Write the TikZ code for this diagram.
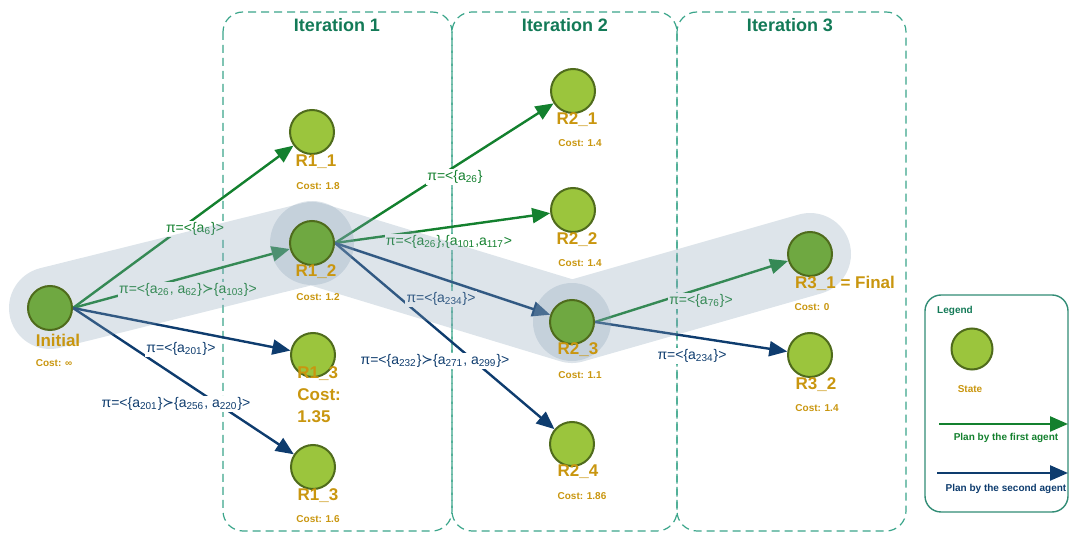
\documentclass[tikz,border=0pt]{standalone}
\usepackage{fontspec}
\setmainfont{Liberation Sans}
\newfontfamily\symbfont{DejaVu Sans}
\usetikzlibrary{arrows.meta}

\definecolor{stategreen}{HTML}{9BC53D}
\definecolor{pathgreen}{HTML}{6FA841}
\definecolor{stateborder}{HTML}{4F6B1C}
\definecolor{costgold}{HTML}{C9960F}
\definecolor{firstgreen}{HTML}{13802E}
\definecolor{secondblue}{HTML}{0E3C6E}
\definecolor{itergreen}{HTML}{137A57}
\definecolor{iterdash}{HTML}{3AA58A}
\definecolor{bandblue}{RGB}{138,162,183}

\pgfdeclarelayer{boxes}
\pgfdeclarelayer{plans}
\pgfdeclarelayer{chosen}
\pgfsetlayers{boxes,plans,chosen,main}

\newcommand{\asub}[1]{a\textsubscript{#1}}
\newcommand{\succsym}{{\symbfont ≻}}

\begin{document}
\begin{tikzpicture}[x=0.5pt, y=-0.5pt,
  state/.style={circle, draw=stateborder, line width=1pt, fill=stategreen, minimum size=22pt, inner sep=0pt},
  onpath/.style={state, fill=pathgreen},
  stname/.style={text=costgold, font=\fontsize{8.5}{11}\selectfont\bfseries},
  cost/.style={text=costgold, font=\fontsize{5}{6}\selectfont\bfseries},
  itertitle/.style={text=itergreen, font=\fontsize{9}{10}\selectfont\bfseries},
  iterbox/.style={draw=iterdash, line width=0.6pt, dash pattern=on 4pt off 2.5pt, rounded corners=10pt},
  firstplan/.style={-{Triangle[length=9pt,width=7.5pt]}, firstgreen, line width=1.2pt},
  secondplan/.style={-{Triangle[length=9pt,width=7.5pt]}, secondblue, line width=1.2pt},
  lblfirst/.style={fill=white, inner sep=0.6pt, text=firstgreen, font=\fontsize{7}{8}\selectfont},
  lblsecond/.style={lblfirst, text=secondblue},
  legtext/.style={font=\fontsize{5}{6}\selectfont\bfseries},
  band/.style={bandblue, opacity=0.29, line width=41pt, line cap=round, line join=round},
  halo/.style={fill=bandblue, opacity=0.29}]

  \useasboundingbox (0,0) rectangle (1071,533);

  % iterations
  \begin{pgfonlayer}{boxes}
    \draw[iterbox] (223,12) rectangle (452,531);
    \draw[iterbox] (452,12) rectangle (677,531);
    \draw[iterbox] (677,12) rectangle (906,531);
  \end{pgfonlayer}
  \node[itertitle] (it1) at (337,25) {Iteration 1};
  \node[itertitle] (it2) at (565,25) {Iteration 2};
  \node[itertitle] (it3) at (790,25) {Iteration 3};

  % legend
  \draw[draw=iterdash!85!black, line width=0.7pt, rounded corners=8pt] (925,295) rectangle (1068,512);
  \node[legtext, text=itergreen] (lgtitle) at (955,311) {Legend};
  \node[state, minimum size=20.5pt] (lgstate) at (972,349) {};
  \node[legtext, text=costgold] (lgstatetxt) at (970,389) {State};
  \coordinate (lg1s) at (939,424);
  \coordinate (lg1e) at (1068,424);
  \draw[firstplan] (lg1s) -- (lg1e);
  \node[legtext, text=firstgreen] (lg1txt) at (1006,438) {Plan by the first agent};
  \coordinate (lg2s) at (937,473);
  \coordinate (lg2e) at (1068,473);
  \draw[secondplan] (lg2s) -- (lg2e);
  \node[legtext, text=secondblue] (lg2txt) at (1006,489) {Plan by the second agent};

  % states
  \node[onpath] (init) at (50,308) {};
  \node[state]  (r11)  at (312,132) {};
  \node[onpath] (r12)  at (312,243) {};
  \node[state]  (r13a) at (313,355) {};
  \node[state]  (r13b) at (313,467) {};
  \node[state]  (r21)  at (573,91) {};
  \node[state]  (r22)  at (573,210) {};
  \node[onpath] (r23)  at (572,322) {};
  \node[state]  (r24)  at (572,444) {};
  \node[onpath] (r31)  at (810,254) {};
  \node[state]  (r32)  at (810,355) {};

  % plans
  \begin{pgfonlayer}{plans}
    \draw[firstplan]  (init.east) -- (r11);
    \draw[firstplan]  (init.east) -- (r12);
    \draw[secondplan] (init.east) -- (r13a);
    \draw[secondplan] (init.east) -- (r13b);
    \draw[firstplan]  (r12.east) -- (r21);
    \draw[firstplan]  (r12.east) -- (r22);
    \draw[secondplan] (r12.east) -- (r23);
    \draw[secondplan] (r12.east) -- (r24);
    \draw[firstplan]  (r23.east) -- (r31);
    \draw[secondplan] (r23.east) -- (r32);

    \node[lblfirst]  (p1) at (195,229) {π=<\{\asub{6}\}>};
    \node[lblfirst]  (p2) at (188,290) {π=<\{\asub{26}, \asub{62}\}\succsym\{\asub{103}\}>};
    \node[lblsecond] (p3) at (181,349) {π=<\{\asub{201}\}>};
    \node[lblsecond] (p4) at (176,404) {π=<\{\asub{201}\}\succsym\{\asub{256}, \asub{220}\}>};
    \node[lblfirst]  (p5) at (455,177) {π=<\{\asub{26}\}};
    \node[lblfirst]  (p6) at (449,242) {π=<\{\asub{26}\},\{\asub{101},\asub{117}>};
    \node[lblsecond] (p7) at (441,299) {π=<\{\asub{234}\}>};
    \node[lblsecond] (p8) at (435,361) {π=<\{\asub{232}\}\succsym\{\asub{271}, \asub{299}\}>};
    \node[lblfirst]  (p9) at (701,301) {π=<\{\asub{76}\}>};
    \node[lblsecond] (p10) at (692,356) {π=<\{\asub{234}\}>};
  \end{pgfonlayer}

  % chosen path
  \begin{pgfonlayer}{chosen}
    \draw[band] (init.center) -- (r12.center) -- (r23.center) -- (r31.center);
    \fill[halo] (r12) circle (21pt);
    \fill[halo] (r23) circle (19.5pt);
  \end{pgfonlayer}

  % names and costs
  \node[stname] (ninit) at (58,340) {Initial};
  \node[cost]   (cinit) at (54,363) {Cost: ∞};
  \node[stname] (n11) at (316,162) {R1\_1};
  \node[cost]   (c11) at (318,186) {Cost: 1.8};
  \node[stname] (n12) at (316,272) {R1\_2};
  \node[cost]   (c12) at (318,297) {Cost: 1.2};
  \node[stname, anchor=north west, align=left, inner sep=0pt] (n13a) at (297,366) {R1\_3\\Cost:\\1.35};
  \node[stname] (n13b) at (318,496) {R1\_3};
  \node[cost]   (c13b) at (318,519) {Cost: 1.6};
  \node[stname] (n21) at (577,120) {R2\_1};
  \node[cost]   (c21) at (580,143) {Cost: 1.4};
  \node[stname] (n22) at (577,240) {R2\_2};
  \node[cost]   (c22) at (580,263) {Cost: 1.4};
  \node[stname] (n23) at (578,350) {R2\_3};
  \node[cost]   (c23) at (580,375) {Cost: 1.1};
  \node[stname] (n24) at (578,472) {R2\_4};
  \node[cost]   (c24) at (582,496) {Cost: 1.86};
  \node[stname] (n31) at (845,283) {R3\_1 = Final};
  \node[cost]   (c31) at (812,307) {Cost: 0};
  \node[stname] (n32) at (816,385) {R3\_2};
  \node[cost]   (c32) at (817,408) {Cost: 1.4};
\end{tikzpicture}
\end{document}
